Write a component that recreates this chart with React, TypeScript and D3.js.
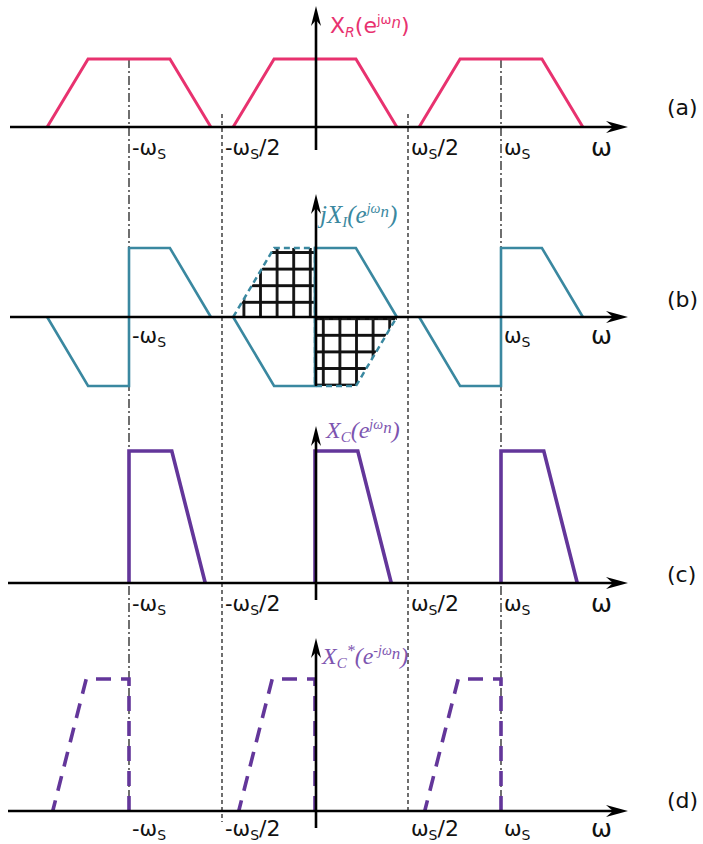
import React from "react";
import * as d3 from "d3";

const W = 703;
const H = 844;

// positions in units of the sampling frequency ωs
const periodCenters = [-1, 0, 1];
const dashDotRefs = [-1, 1];
const dashedRefs = [-0.5, 0.5];

// shape vertices: [offset from period centre (ω/ωs), normalised amplitude]
const shapeA: [number, number][] = [[-0.44, 0], [-0.22, 1], [0.22, 1], [0.44, 0]];
const shapeBPos: [number, number][] = [[0, 0], [0, 1], [0.22, 1], [0.44, 0]];
const shapeBNeg: [number, number][] = [[-0.44, 0], [-0.22, -1], [0, -1], [0, 0]];
const mirrorUpper: [number, number][] = [[-0.44, 0], [-0.22, 1], [0, 1], [0, 0]];
const mirrorLower: [number, number][] = [[0, 0], [0, -1], [0.22, -1], [0.44, 0]];
const shapeC: [number, number][] = [[0, 0], [0, 1], [0.23, 1], [0.41, 0]];
const shapeD: [number, number][] = [[0, 0], [0, 1], [-0.23, 1], [-0.41, 0]];

// tick labels: [position, main text, subscript, suffix]
const ticksFull: [number, string, string, string][] = [
  [-1, "-ω", "S", ""],
  [-0.5, "-ω", "S", "/2"],
  [0.5, "ω", "S", "/2"],
  [1, "ω", "S", ""],
];
const ticksB: [number, string, string, string][] = [
  [-1, "-ω", "S", ""],
  [1, "ω", "S", ""],
];
const panelNames = ["(a)", "(b)", "(c)", "(d)"];

const PINK = "#e8326f";
const TEAL = "#3a88a0";
const PURPLE = "#63369a";
const PURPLE_LABEL = "#7d55b0";

const x = d3.scaleLinear().domain([-1, 1]).range([129, 501]);

const panels = [
  { axisY: 127, amp: 68, yTop: 6, yBottom: 150, xStart: 10, lab: 28, name: 115 },
  { axisY: 317, amp: 69, yTop: 194, yBottom: 386, xStart: 10, lab: 26, name: 307 },
  { axisY: 583, amp: 132, yTop: 426, yBottom: 600, xStart: 8, lab: 28, name: 582 },
  { axisY: 811, amp: 132, yTop: 638, yBottom: 828, xStart: 8, lab: 25, name: 808 },
];

function yScale(i: number) {
  const p = panels[i];
  return d3.scaleLinear().domain([0, 1]).range([p.axisY, p.axisY - p.amp]);
}

function shapePath(i: number, shape: [number, number][], c: number, close = false) {
  const ys = yScale(i);
  const line = d3
    .line<[number, number]>()
    .x((d) => x(c + d[0]))
    .y((d) => ys(d[1]));
  return line(shape) + (close ? "Z" : "");
}

const serif = "'Liberation Serif', 'DejaVu Serif', serif";
const sans = "'DejaVu Sans', 'Liberation Sans', sans-serif";

function TickLabel({ t, i }: { t: [number, string, string, string]; i: number }) {
  const p = panels[i];
  return (
    <text x={x(t[0]) + 3} y={p.axisY + p.lab} fontFamily={sans} fontSize={21} fill="#111">
      {t[1]}
      <tspan fontSize={14} dy={4}>{t[2]}</tspan>
      {t[3] ? <tspan dy={-4} fontSize={22}>{t[3]}</tspan> : null}
    </text>
  );
}

function AxisX({ i }: { i: number }) {
  const p = panels[i];
  const tip = 628;
  const y = p.axisY;
  return (
    <g>
      <line x1={p.xStart} x2={tip - 8} y1={y} y2={y} stroke="#000" strokeWidth={2.6} />
      <path d={`M${tip},${y} L${tip - 22},${y - 6} L${tip - 15},${y} L${tip - 22},${y + 6} Z`} fill="#000" />
      <text x={591} y={y + p.lab + 1} fontFamily={sans} fontSize={25} fill="#111">ω</text>
    </g>
  );
}

function AxisY({ i }: { i: number }) {
  const p = panels[i];
  const cx = x(0) + 1;
  return (
    <g>
      <line x1={cx} x2={cx} y1={p.yBottom} y2={p.yTop + 10} stroke="#000" strokeWidth={2.6} />
      <path
        d={`M${cx},${p.yTop} L${cx - 5},${p.yTop + 20} L${cx},${p.yTop + 14} L${cx + 5},${p.yTop + 20} Z`}
        fill="#000"
      />
    </g>
  );
}

export default function App() {
  const yb = yScale(1);
  return (
    <svg width={W} height={H} style={{ display: "block", position: "absolute", left: 0, top: 0 }}>
      <rect width={W} height={H} fill="#fff" />
      <defs>
        <pattern id="hatchU" patternUnits="userSpaceOnUse" x={302} y={294} width={16.6} height={16.6}>
          <path d="M8.3,0V16.6M0,8.3H16.6" stroke="#111" strokeWidth={2.8} />
        </pattern>
        <pattern id="hatchL" patternUnits="userSpaceOnUse" x={315} y={327} width={16.6} height={16.6}>
          <path d="M8.3,0V16.6M0,8.3H16.6" stroke="#111" strokeWidth={2.8} />
        </pattern>
      </defs>

      {/* reference lines */}
      {dashDotRefs.map((r) => (
        <line key={"dd" + r} x1={x(r)} x2={x(r)} y1={59} y2={811} stroke="#222" strokeWidth={1.3} strokeDasharray="9,3,2,3" />
      ))}
      {dashedRefs.map((r) => (
        <line key={"ds" + r} x1={x(r)} x2={x(r)} y1={114} y2={r < 0 ? 822 : 811} stroke="#222" strokeWidth={1.3} strokeDasharray="4,3" />
      ))}

      {/* panel (a) */}
      {periodCenters.map((c) => (
        <path key={"a" + c} d={shapePath(0, shapeA, c)} fill="none" stroke={PINK} strokeWidth={3} strokeLinejoin="miter" />
      ))}

      {/* panel (b) hatched mirrors */}
      <path d={shapePath(1, mirrorUpper, 0, true)} fill="url(#hatchU)" stroke="none" />
      <path d={shapePath(1, mirrorLower, 0, true)} fill="url(#hatchL)" stroke="none" />
      <path d={shapePath(1, mirrorUpper, 0)} fill="none" stroke={TEAL} strokeWidth={2.5} strokeDasharray="6,4" />
      <path d={shapePath(1, mirrorLower, 0)} fill="none" stroke={TEAL} strokeWidth={2.5} strokeDasharray="6,4" />
      <line x1={x(0)} x2={x(0.44)} y1={yb(0) + 2} y2={yb(0) + 2} stroke="#222" strokeWidth={2} strokeDasharray="5,4" />
      {periodCenters.map((c) => (
        <g key={"b" + c}>
          <path d={shapePath(1, shapeBPos, c)} fill="none" stroke={TEAL} strokeWidth={2.6} />
          <path d={shapePath(1, shapeBNeg, c)} fill="none" stroke={TEAL} strokeWidth={2.6} />
        </g>
      ))}

      {/* panel (c) */}
      {periodCenters.map((c) => (
        <path key={"c" + c} d={shapePath(2, shapeC, c)} fill="none" stroke={PURPLE} strokeWidth={3.6} />
      ))}

      {/* panel (d) */}
      {periodCenters.map((c) => (
        <path key={"d" + c} d={shapePath(3, shapeD, c)} fill="none" stroke={PURPLE} strokeWidth={3.6} strokeDasharray="15,10" />
      ))}

      {/* axes */}
      {panels.map((p, i) => (
        <g key={"ax" + i}>
          <AxisX i={i} />
          <AxisY i={i} />
          {(i === 1 ? ticksB : ticksFull).map((t) => (
            <TickLabel key={t[0]} t={t} i={i} />
          ))}
          <text x={667} y={p.name} fontFamily={sans} fontSize={22} fill="#111">
            {panelNames[i]}
          </text>
        </g>
      ))}

      {/* y-axis labels */}
      <text x={330} y={33} fontFamily={sans} fontSize={22} fill={PINK}>
        X<tspan fontSize={14} dy={4} fontStyle="italic">R</tspan>
        <tspan dy={-4}>(e</tspan>
        <tspan fontSize={13} dy={-9}>jω</tspan>
        <tspan fontSize={15} dy={4} fontStyle="italic">n</tspan>
        <tspan dy={5}>)</tspan>
      </text>
      <text x={320} y={223} fontFamily={serif} fontStyle="italic" fontSize={25} fill={TEAL}>
        jX<tspan fontSize={15} dy={4}>I</tspan>
        <tspan dy={-4}>(e</tspan>
        <tspan fontSize={14} dy={-10}>jω</tspan>
        <tspan fontSize={17} dy={4}>n</tspan>
        <tspan dy={6}>)</tspan>
      </text>
      <text x={326} y={438} fontFamily={serif} fontStyle="italic" fontSize={24} fill={PURPLE_LABEL}>
        X<tspan fontSize={15} dy={4}>C</tspan>
        <tspan dy={-4}>(e</tspan>
        <tspan fontSize={14} dy={-9}>jω</tspan>
        <tspan fontSize={17} dy={4}>n</tspan>
        <tspan dy={5}>)</tspan>
      </text>
      <text x={322} y={664} fontFamily={serif} fontStyle="italic" fontSize={24} fill={PURPLE_LABEL}>
        X<tspan fontSize={15} dy={4}>C</tspan>
        <tspan fontSize={16} dy={-12}>*</tspan>
        <tspan dy={8}>(e</tspan>
        <tspan fontSize={14} dy={-9}>-jω</tspan>
        <tspan fontSize={17} dy={4}>n</tspan>
        <tspan dy={5}>)</tspan>
      </text>
    </svg>
  );
}
